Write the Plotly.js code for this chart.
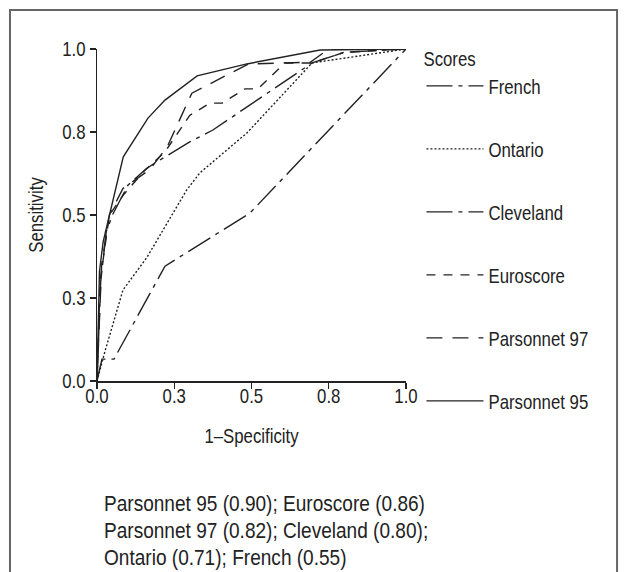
<!DOCTYPE html>
<html>
<head>
<meta charset="utf-8">
<script src="https://cdn.plot.ly/plotly-3.0.1.min.js"></script>
<style>html,body{margin:0;padding:0;background:#fff;}#chart{width:626px;height:572px;}</style>
</head>
<body>
<div id="chart"></div>
<script>
var seriesNames = ["French", "Ontario", "Cleveland", "Euroscore", "Parsonnet 97", "Parsonnet 95"];

var frenchX = [0, 0.016, 0.055, 0.22, 0.495, 1.0];
var frenchY = [0, 0.066, 0.066, 0.346, 0.506, 1.0];

var ontarioX = [0, 0.026, 0.084, 0.162, 0.29, 0.333, 0.485, 0.696, 1.0];
var ontarioY = [0, 0.09, 0.274, 0.373, 0.575, 0.627, 0.747, 0.958, 1.0];

var clevelandX = [0, 0.012, 0.03, 0.05, 0.1, 0.16, 0.22, 0.3, 0.375, 0.485, 0.615, 0.696, 0.8, 1.0];
var clevelandY = [0, 0.3, 0.45, 0.5, 0.59, 0.64, 0.675, 0.72, 0.756, 0.825, 0.907, 0.958, 0.99, 1.0];

var euroX = [0, 0.01, 0.04, 0.085, 0.15, 0.22, 0.3, 0.366, 0.405, 0.479, 0.521, 0.608, 0.696, 0.8, 1.0];
var euroY = [0, 0.3, 0.5, 0.56, 0.63, 0.69, 0.8, 0.837, 0.837, 0.88, 0.88, 0.958, 0.958, 0.99, 1.0];

var pars97X = [0, 0.015, 0.04, 0.084, 0.17, 0.227, 0.307, 0.49, 0.69, 0.75, 1.0];
var pars97Y = [0, 0.35, 0.5, 0.58, 0.636, 0.705, 0.867, 0.955, 0.96, 1.0, 1.0];

var pars95X = [0, 0.008, 0.02, 0.085, 0.165, 0.22, 0.324, 0.485, 0.722, 1.0];
var pars95Y = [0, 0.33, 0.42, 0.675, 0.792, 0.846, 0.919, 0.955, 0.997, 1.0];

var tickVals = [0, 0.25, 0.5, 0.75, 1.0];
var tickText = ["0.0", "0.3", "0.5", "0.8", "1.0"];

var footerLines = [
  "Parsonnet 95 (0.90); Euroscore (0.86)",
  "Parsonnet 97 (0.82); Cleveland (0.80);",
  "Ontario (0.71); French (0.55)"
];

var FONT = "'Liberation Sans', Arial, sans-serif";
var FS = 20;
var CONDENSE = 0.84;

var dashes = ["26px,6px,4px,6px", "2px,2px", "26px,6px,4px,6px", "9px,8px", "16px,10px", "solid"];
var xs = [frenchX, ontarioX, clevelandX, euroX, pars97X, pars95X];
var ys = [frenchY, ontarioY, clevelandY, euroY, pars97Y, pars95Y];

var traces = seriesNames.map(function (n, i) {
  return {
    x: xs[i], y: ys[i], name: n, type: "scatter", mode: "lines",
    legendgroup: "g" + i,
    line: {color: "#222", width: 1.4, dash: dashes[i]}
  };
});

var annotations = footerLines.map(function (t, i) {
  return {
    text: t, xref: "paper", yref: "paper",
    x: 0.016, y: [-0.367, -0.449, -0.530][i],
    xanchor: "left", yanchor: "middle", showarrow: false,
    font: {family: FONT, size: 22.7, color: "#222"}
  };
});

var layout = {
  width: 626, height: 572,
  margin: {l: 97, r: 220, t: 49, b: 191},
  paper_bgcolor: "#fff", plot_bgcolor: "#fff",
  font: {family: FONT, size: FS, color: "#222"},
  showlegend: true,
  legend: {
    x: 1.05, xanchor: "left", y: 1.026, yanchor: "top",
    traceorder: "grouped", tracegroupgap: 34,
    maxheight: 560,
    title: {text: "Scores", font: {family: FONT, size: FS}},
    font: {family: FONT, size: FS, color: "#222"},
    itemwidth: 57
  },
  xaxis: {
    range: [0, 1], tickvals: tickVals, ticktext: tickText,
    showgrid: false, zeroline: false, showline: true, linecolor: "#222", linewidth: 1.5,
    ticks: "outside", ticklen: 6, tickcolor: "#222", tickwidth: 1.2,
    ticklabelstandoff: -9,
    title: {text: "1–Specificity", font: {family: FONT, size: FS}, standoff: 22},
    tickfont: {family: FONT, size: FS}
  },
  yaxis: {
    range: [0, 1], tickvals: tickVals, ticktext: tickText,
    showgrid: false, zeroline: false, showline: true, linecolor: "#222", linewidth: 1.5,
    ticks: "outside", ticklen: 6, tickcolor: "#222", tickwidth: 1.2,
    title: {text: "Sensitivity", font: {family: FONT, size: FS}, standoff: 8},
    tickfont: {family: FONT, size: FS}
  },
  shapes: [{
    type: "rect", xref: "paper", yref: "paper",
    x0: -0.2816, x1: 1.683, y0: -0.62, y1: 1.1175,
    line: {color: "#666", width: 2}
  }],
  annotations: annotations
};

function condenseText(gd) {
  var texts = gd.querySelectorAll("svg text");
  texts.forEach(function (t) {
    var bb;
    try { bb = t.getBBox(); } catch (e) { return; }
    if (!bb || !bb.width) return;
    var anchor = window.getComputedStyle(t).textAnchor || t.getAttribute("text-anchor") || "start";
    var isAnno = !!t.closest(".annotation");
    var cx;
    if (isAnno || anchor === "start") cx = bb.x;
    else if (anchor === "end") cx = bb.x + bb.width;
    else cx = bb.x + bb.width / 2;
    var cy = bb.y + bb.height / 2;
    var tr = t.getAttribute("transform") || "";
    t.setAttribute("transform", tr + " translate(" + cx + "," + cy + ") scale(" + CONDENSE + ",1) translate(" + (-cx) + "," + (-cy) + ")");
  });
}

Plotly.newPlot("chart", traces, layout, {displayModeBar: false, staticPlot: true}).then(function (gd) {
  condenseText(gd);
});
</script>
</body>
</html>
